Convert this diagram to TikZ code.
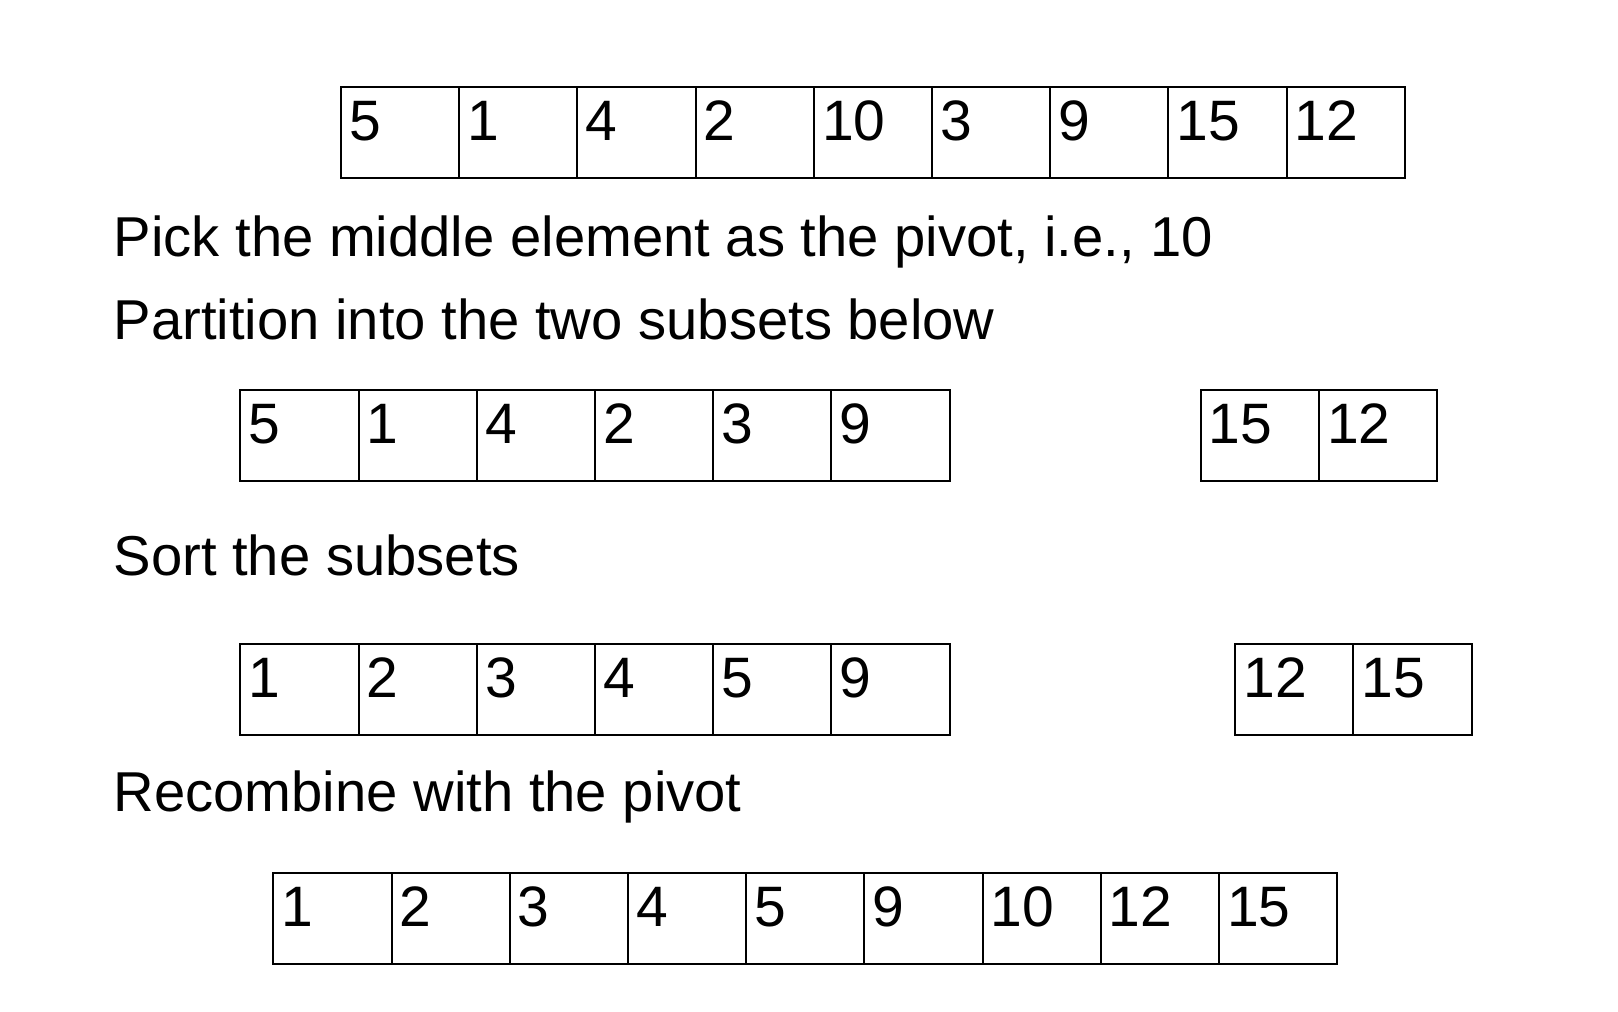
\documentclass[tikz,border=0pt]{standalone}
\usepackage{fontspec}
\setmainfont{Liberation Sans}
\usetikzlibrary{positioning}

\tikzset{
  cell/.style={draw, line width=2pt, minimum width=118.2pt, minimum height=91pt,
    inner sep=0pt, outer sep=0pt, anchor=north west},
  num/.style={anchor=base west, inner sep=0pt, font=\fontsize{57}{60}\selectfont},
  caption/.style={anchor=base west, inner sep=0pt, font=\fontsize{56.2}{60}\selectfont}
}

% one row of boxes: name, left, top, values
\newcommand{\drawrow}[4]{%
  \foreach \v [count=\i] in {#4} {
    \ifnum\i=1
      \node[cell] (#1-\i) at (#2,#3) {};
    \else
      \pgfmathtruncatemacro\j{\i-1}
      \node[cell, right=0pt of #1-\j] (#1-\i) {};
    \fi
    \node[num] (#1-\i-v) at ([xshift=8pt, yshift=-53.5pt]#1-\i.north west) {\v};
  }}

\begin{document}
\begin{tikzpicture}[x=1pt, y=-1pt]
  \useasboundingbox (0,0) rectangle (1618,1012);

  \drawrow{start}{341}{86.7}{5,1,4,2,10,3,9,15,12}   % input

  \node[caption] (pick) at (113.5,256) {Pick the middle element as the pivot, i.e., 10};
  \node[caption] (part) at (113.5,339.3) {Partition into the two subsets below};

  \drawrow{low}{240.4}{390}{5,1,4,2,3,9}
  \drawrow{high}{1200.7}{390}{15,12}

  \node[caption] (sort) at (113.5,575.5) {Sort the subsets};

  \drawrow{lows}{240.4}{644}{1,2,3,4,5,9}
  \drawrow{highs}{1235.2}{644}{12,15}

  \node[caption] (recomb) at (113.5,811.5) {Recombine with the pivot};

  \drawrow{result}{273.3}{873.3}{1,2,3,4,5,9,10,12,15}   % sorted
\end{tikzpicture}
\end{document}
